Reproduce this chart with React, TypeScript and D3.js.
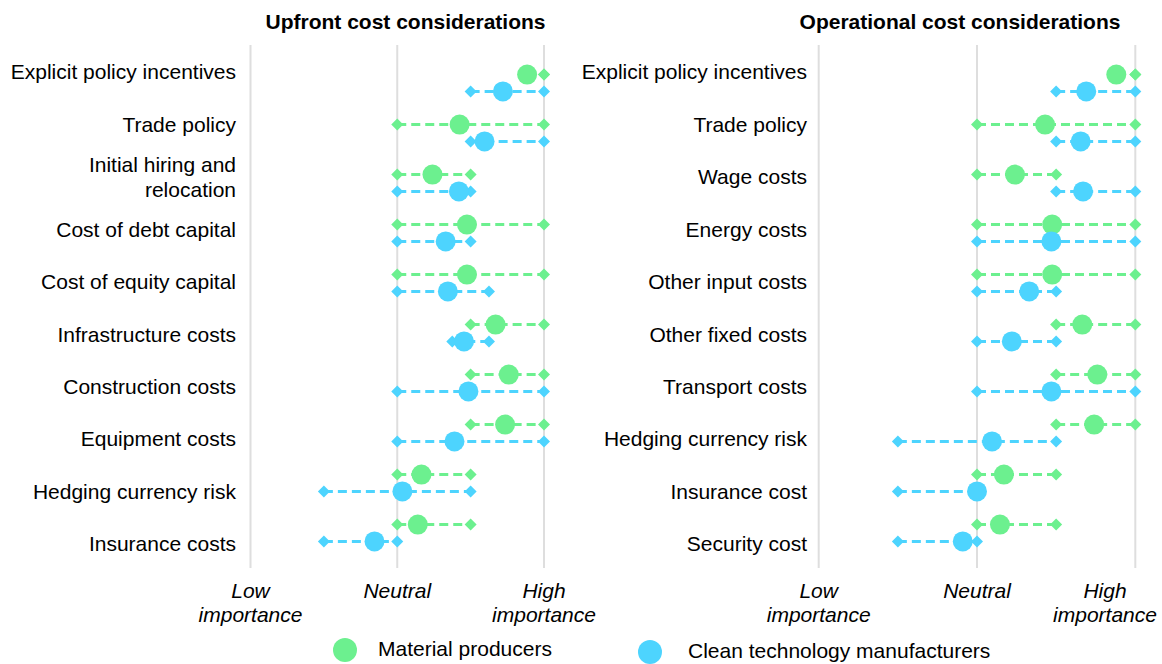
import * as d3 from "d3";

const W = 1162;
const H = 664;

const upfrontCats = [
  "Explicit policy incentives",
  "Trade policy",
  "Initial hiring and\nrelocation",
  "Cost of debt capital",
  "Cost of equity capital",
  "Infrastructure costs",
  "Construction costs",
  "Equipment costs",
  "Hedging currency risk",
  "Insurance costs",
];
// importance scale 1 (low) .. 3 (neutral) .. 5 (high)
const upfrontMatMean = [4.77, 3.85, 3.48, 3.95, 3.95, 4.34, 4.52, 4.47, 3.33, 3.28];
const upfrontMatLo = [5, 3, 3, 3, 3, 4, 4, 4, 3, 3];
const upfrontMatHi = [5, 5, 4, 5, 5, 5, 5, 5, 4, 4];
const upfrontCleanMean = [4.44, 4.19, 3.84, 3.66, 3.69, 3.91, 3.97, 3.78, 3.07, 2.69];
const upfrontCleanLo = [4, 4, 3, 3, 3, 3.75, 3, 3, 2, 2];
const upfrontCleanHi = [5, 5, 4, 4, 4.25, 4.25, 5, 5, 4, 3];

const opCats = [
  "Explicit policy incentives",
  "Trade policy",
  "Wage costs",
  "Energy costs",
  "Other input costs",
  "Other fixed costs",
  "Transport costs",
  "Hedging currency risk",
  "Insurance cost",
  "Security cost",
];
const opMatMean = [4.76, 3.86, 3.48, 3.95, 3.95, 4.33, 4.52, 4.48, 3.34, 3.29];
const opMatLo = [5, 3, 3, 3, 3, 4, 4, 4, 3, 3];
const opMatHi = [5, 5, 4, 5, 5, 5, 5, 5, 4, 4];
const opCleanMean = [4.38, 4.31, 4.34, 3.94, 3.66, 3.44, 3.94, 3.19, 3.0, 2.82];
const opCleanLo = [4, 4, 4, 3, 3, 3, 3, 2, 2, 2];
const opCleanHi = [5, 5, 5, 5, 4, 4, 5, 4, 3, 3];

const axisTicks = [1, 3, 5];
const axisLabels = ["Low\nimportance", "Neutral", "High\nimportance"];

const seriesNames = ["Material producers", "Clean technology manufacturers"];
const GREEN = "#6cf08f";
const BLUE = "#4dd4fe";
const FONT = "'Liberation Sans', Arial, sans-serif";
const FS = 21;

type Series = { mean: number[]; lo: number[]; hi: number[]; color: string; offset: number };

function Diamond({ x, y, color }: { x: number; y: number; color: string }) {
  const s = 6;
  return (
    <path
      d={`M${x},${y - s}L${x + s},${y}L${x},${y + s}L${x - s},${y}Z`}
      fill={color}
    />
  );
}

function Panel({
  title,
  titleX,
  cats,
  series,
  x0,
  x1,
  labelX,
}: {
  title: string;
  titleX: number;
  cats: string[];
  series: Series[];
  x0: number;
  x1: number;
  labelX: number;
}) {
  const x = d3.scaleLinear().domain([1, 5]).range([x0, x1]);
  const band = d3.scaleBand().domain(cats).range([58, 558]);
  const labelY = d3.scalePoint().domain(cats).range([72, 544]);

  return (
    <g>
      <text
        x={titleX}
        y={22}
        textAnchor="middle"
        fontWeight="bold"
        fontSize={FS}
        dy="0.35em"
      >
        {title}
      </text>
      {axisTicks.map((t) => (
        <line key={t} x1={x(t)} x2={x(t)} y1={45} y2={568} stroke="#dedede" strokeWidth={2} />
      ))}
      {axisTicks.map((t, i) =>
        axisLabels[i].split("\n").map((s, j) => (
          <text
            key={t + "-" + j}
            x={Math.min(x(t), W - 57)}
            y={591 + j * 24}
            textAnchor="middle"
            fontStyle="italic"
            fontSize={FS}
            dy="0.35em"
          >
            {s}
          </text>
        ))
      )}
      {cats.map((c) => {
        const lines = c.split("\n");
        const cy = labelY(c)!;
        return lines.map((s, j) => (
          <text
            key={c + j}
            x={labelX}
            y={cy + (j - (lines.length - 1) / 2) * 25}
            textAnchor="end"
            fontSize={FS}
            dy="0.35em"
          >
            {s}
          </text>
        ));
      })}
      {series.map((sr, si) =>
        cats.map((c, i) => {
          const y = band(c)! + band.bandwidth() / 2 + sr.offset;
          return (
            <g key={si + "-" + i}>
              <line
                x1={x(sr.lo[i])}
                x2={x(sr.hi[i])}
                y1={y}
                y2={y}
                stroke={sr.color}
                strokeWidth={3}
                strokeDasharray="9,5"
              />
              <Diamond x={x(sr.lo[i])} y={y} color={sr.color} />
              <Diamond x={x(sr.hi[i])} y={y} color={sr.color} />
              <circle cx={x(sr.mean[i])} cy={y} r={10} fill={sr.color} />
            </g>
          );
        })
      )}
    </g>
  );
}

export default function App() {
  const legendX = [345, 650];
  const legendTextX = [378, 688];
  const legendColors = [GREEN, BLUE];
  return (
    <svg
      width={W}
      height={H}
      style={{ position: "absolute", left: 0, top: 0, display: "block" }}
      fontFamily={FONT}
      fill="#000"
    >
      <Panel
        title="Upfront cost considerations"
        titleX={405.5}
        cats={upfrontCats}
        x0={250.5}
        x1={544}
        labelX={236}
        series={[
          { mean: upfrontMatMean, lo: upfrontMatLo, hi: upfrontMatHi, color: GREEN, offset: -8.4 },
          { mean: upfrontCleanMean, lo: upfrontCleanLo, hi: upfrontCleanHi, color: BLUE, offset: 8.4 },
        ]}
      />
      <Panel
        title="Operational cost considerations"
        titleX={960}
        cats={opCats}
        x0={818.7}
        x1={1135.3}
        labelX={807}
        series={[
          { mean: opMatMean, lo: opMatLo, hi: opMatHi, color: GREEN, offset: -8.4 },
          { mean: opCleanMean, lo: opCleanLo, hi: opCleanHi, color: BLUE, offset: 8.4 },
        ]}
      />
      {seriesNames.map((n, i) => (
        <g key={n}>
          <circle cx={legendX[i]} cy={650 + i * 2} r={12} fill={legendColors[i]} />
          <text x={legendTextX[i]} y={649 + i * 2} fontSize={FS} dy="0.35em">
            {n}
          </text>
        </g>
      ))}
    </svg>
  );
}
